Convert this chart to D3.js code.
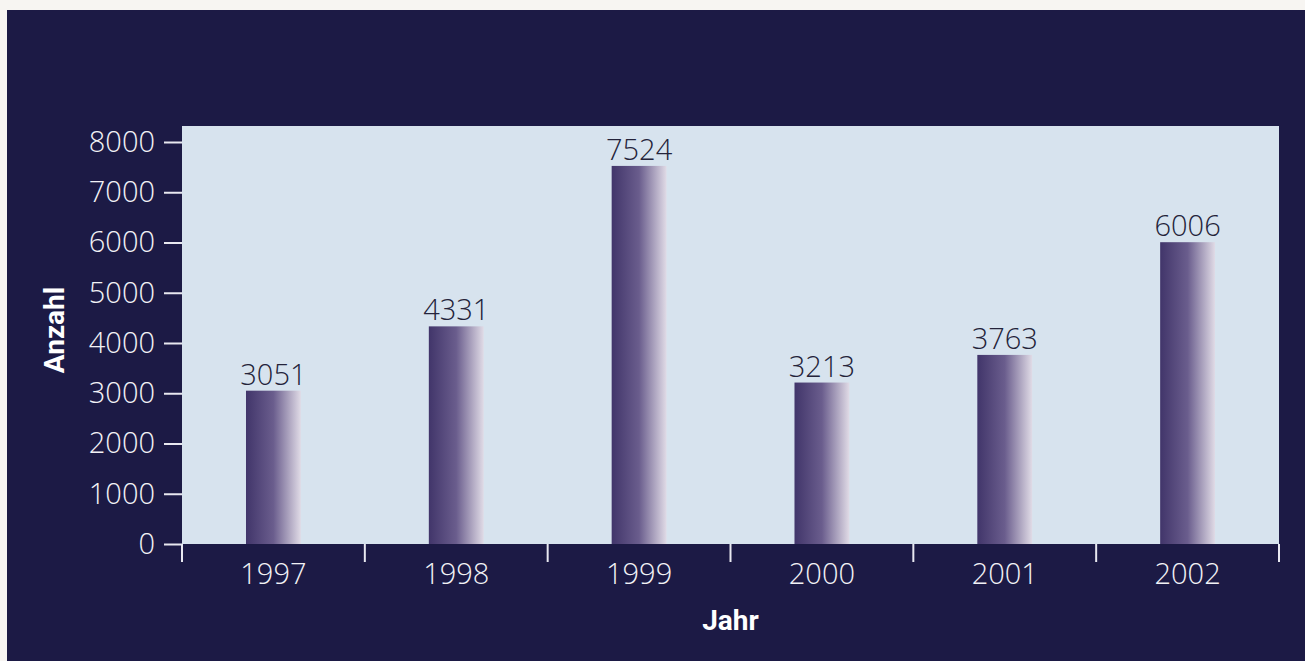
<html>
<head>
<meta charset="utf-8">
<title>Anzahl pro Jahr</title>
<style>
  body { margin: 0; background: #f7f5f2; }
  .tick text { font-family: "Open Sans", "Lato", sans-serif; font-weight: 300; }
  .title { font-family: "Roboto", "Open Sans", sans-serif; font-weight: bold; }
</style>
</head>
<body>
<svg></svg>
<script src="https://d3js.org/d3.v7.min.js"></script>
<script>
// chart data
var years = ["1997", "1998", "1999", "2000", "2001", "2002"];
var counts = [3051, 4331, 7524, 3213, 3763, 6006];
var yTicks = [0, 1000, 2000, 3000, 4000, 5000, 6000, 7000, 8000];

var width = 1305;
var height = 661;

var svg = d3.select("svg")
    .attr("width", width)
    .attr("height", height);

// dark navy panel
svg.append("rect")
    .attr("x", 7).attr("y", 10)
    .attr("width", width - 7).attr("height", height - 10)
    .attr("fill", "#1c1a45");

// plot area bounds
var plotLeft = 182, plotRight = 1279, plotTop = 126, plotBottom = 544;

svg.append("rect")
    .attr("x", plotLeft).attr("y", plotTop)
    .attr("width", plotRight - plotLeft).attr("height", plotBottom - plotTop)
    .attr("fill", "#d7e3ee");

var x = d3.scaleBand()
    .domain(years)
    .range([plotLeft, plotRight])
    .paddingInner(0.7)
    .paddingOuter(0.35);

var y = d3.scaleLinear()
    .domain([0, 8000])
    .range([plotBottom, 142]);

// bar gradient, dark on the left fading to light on the right
var grad = svg.append("defs").append("linearGradient")
    .attr("id", "barGrad")
    .attr("x1", "0%").attr("x2", "100%")
    .attr("y1", "0%").attr("y2", "0%");
grad.append("stop").attr("offset", "0%").attr("stop-color", "#41356a");
grad.append("stop").attr("offset", "50%").attr("stop-color", "#6a5d8d");
grad.append("stop").attr("offset", "100%").attr("stop-color", "#e0dbe6");

var data = years.map(function(d, i) { return {year: d, value: counts[i]}; });

svg.selectAll("rect.bar")
    .data(data)
    .enter()
    .append("rect")
    .attr("class", "bar")
    .attr("x", function(d) { return x(d.year); })
    .attr("y", function(d) { return y(d.value); })
    .attr("width", x.bandwidth())
    .attr("height", function(d) { return plotBottom - y(d.value); })
    .attr("fill", "url(#barGrad)");

// value labels above bars
svg.selectAll("text.val")
    .data(data)
    .enter()
    .append("text")
    .attr("class", "val")
    .attr("x", function(d) { return x(d.year) + x.bandwidth() / 2; })
    .attr("y", function(d) { return y(d.value) - 6; })
    .attr("text-anchor", "middle")
    .style("font-family", "'Open Sans', 'Lato', sans-serif")
    .style("font-weight", 300)
    .style("font-size", "29px")
    .style("fill", "#24233a")
    .text(function(d) { return d.value; });

// y axis
var yAxis = svg.append("g")
    .attr("transform", "translate(" + plotLeft + ",0)")
    .call(d3.axisLeft(y).tickValues(yTicks).tickSize(18).tickPadding(9).tickFormat(d3.format("d")));
yAxis.select(".domain").remove();
yAxis.selectAll("line").attr("stroke", "#e8e8f0").attr("stroke-width", 2);
yAxis.selectAll("text").attr("fill", "#f2f2f6").style("font-size", "29px");

// x axis: ticks on band boundaries, labels in band centres
var bounds = years.map(function(d) { return x(d) - x.step() * x.paddingOuter(); });
bounds.push(plotRight);

var xAxis = svg.append("g");
xAxis.selectAll("line")
    .data(bounds)
    .enter()
    .append("line")
    .attr("x1", function(d) { return d; })
    .attr("x2", function(d) { return d; })
    .attr("y1", plotBottom)
    .attr("y2", plotBottom + 18)
    .attr("stroke", "#e8e8f0")
    .attr("stroke-width", 2);

xAxis.selectAll("text")
    .data(years)
    .enter()
    .append("text")
    .attr("x", function(d) { return x(d) + x.bandwidth() / 2; })
    .attr("y", 584)
    .attr("text-anchor", "middle")
    .style("font-family", "'Open Sans', 'Lato', sans-serif")
    .style("font-weight", 300)
    .style("font-size", "29px")
    .style("fill", "#f2f2f6")
    .text(function(d) { return d; });

// axis titles
svg.append("text")
    .attr("class", "title")
    .attr("x", (plotLeft + plotRight) / 2)
    .attr("y", 630)
    .attr("text-anchor", "middle")
    .style("font-size", "28px")
    .style("fill", "#ffffff")
    .text("Jahr");

svg.append("text")
    .attr("class", "title")
    .attr("transform", "translate(64,330) rotate(-90)")
    .attr("text-anchor", "middle")
    .style("font-size", "28px")
    .style("fill", "#ffffff")
    .text("Anzahl");
</script>
</body>
</html>
